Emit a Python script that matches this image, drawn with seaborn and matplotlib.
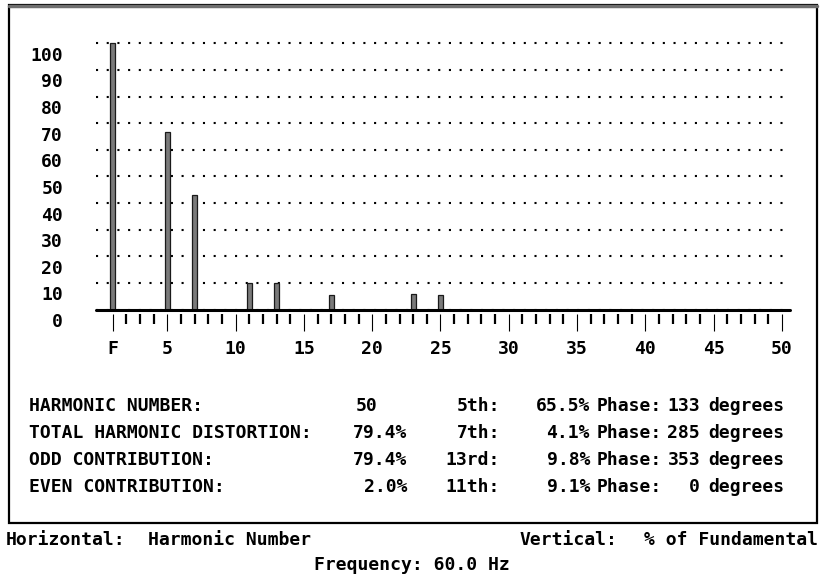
import matplotlib
matplotlib.use("Agg")
import matplotlib.pyplot as plt
import seaborn as sns
import pandas as pd
from matplotlib.patches import Rectangle
from matplotlib.lines import Line2D
from matplotlib.transforms import ScaledTranslation

# ---------------- data ----------------
harmonics = [1, 5, 7, 11, 13, 17, 23, 25]
percent_of_fundamental = [100, 66.5, 43, 10, 10, 5.3, 5.8, 5.5]

y_ticks = [0, 10, 20, 30, 40, 50, 60, 70, 80, 90, 100]
y_tick_labels = ["0", "10", "20", "30", "40", "50", "60", "70", "80", "90", "100"]
x_major_ticks = [1, 5, 10, 15, 20, 25, 30, 35, 40, 45, 50]
x_major_labels = ["F", "5", "10", "15", "20", "25", "30", "35", "40", "45", "50"]
x_minor_ticks = list(range(1, 51))

summary_labels = ["HARMONIC NUMBER:", "TOTAL HARMONIC DISTORTION:",
                  "ODD CONTRIBUTION:", "EVEN CONTRIBUTION:"]
summary_values = ["50", "79.4%", "79.4%", "2.0%"]
top_harmonic_names = ["5th:", "7th:", "13rd:", "11th:"]
top_harmonic_values = ["65.5%", "4.1%", "9.8%", "9.1%"]
top_harmonic_phases = ["133", "285", "353", "0"]

# ---------------- style ----------------
sns.set_theme(style="white")
plt.rcParams["font.family"] = ["DejaVu Sans Mono", "DejaVu Sans"]
plt.rcParams["font.weight"] = "bold"
plt.rcParams["lines.scale_dashes"] = False
FS = 13

W, H = 822, 579
fig = plt.figure(figsize=(W / 100, H / 100), dpi=100)
fig.patch.set_facecolor("white")

def fx(x):
    return x / W

def fy(y):
    return 1 - y / H

# axes geometry (pixels)
x_left_px, x_right_px = 96, 789.5
y_zero_px = 309.5
px_per_unit = 2.662
y_top_val = 102
y_top_px = y_zero_px - y_top_val * px_per_unit

ax = fig.add_axes([fx(x_left_px), fy(y_zero_px),
                   (x_right_px - x_left_px) / W, (y_zero_px - y_top_px) / H])
ax.set_facecolor("white")

df = pd.DataFrame({"harmonic": harmonics, "pct": percent_of_fundamental})
sns.barplot(data=df, x="harmonic", y="pct", native_scale=True, width=0.18,
            color="#7a7a7a", saturation=1, edgecolor="#1a1a1a", linewidth=0.9,
            errorbar=None, ax=ax, zorder=3)

ax.set_xlim(-0.22, 50.55)
ax.set_ylim(0, y_top_val)
ax.set_xlabel("")
ax.set_ylabel("")

# dotted horizontal grid (dots every ~10.7 px)
ax.set_axisbelow(True)
ax.set_yticks(y_ticks, y_tick_labels)
ax.yaxis.grid(True, linestyle=(0, (1.5, 6.2)), linewidth=1.5, color="black")
ax.xaxis.grid(False)

# baseline axis
ax.axhline(0, color="black", lw=2.2, zorder=4, clip_on=False)

for s in ["top", "left", "right", "bottom"]:
    ax.spines[s].set_visible(False)
ax.spines["bottom"].set_position(("outward", 2.9))

ax.set_xticks(x_major_ticks, x_major_labels)
ax.set_xticks(x_minor_ticks, minor=True)
ax.tick_params(axis="x", which="major", bottom=True, length=12.2, width=0.8,
               direction="out", pad=6.8, labelsize=FS, color="black",
               labelcolor="black")
ax.tick_params(axis="x", which="minor", bottom=True, length=7.2, width=1.6,
               direction="out", color="black")
ax.tick_params(axis="y", length=0, pad=23.8, labelsize=FS, labelcolor="black")
for lbl in ax.get_yticklabels():
    lbl.set_transform(lbl.get_transform() +
                      ScaledTranslation(0, -10.5 / 100, fig.dpi_scale_trans))
for lbl in ax.get_xticklabels() + ax.get_yticklabels():
    lbl.set_fontweight("bold")

# ---------------- frame ----------------
fig.add_artist(Rectangle((fx(9), fy(523)), fx(817) - fx(9), fy(5) - fy(523),
                         transform=fig.transFigure, fill=False,
                         edgecolor="black", lw=1.6))
fig.add_artist(Line2D([fx(9), fx(817)], [fy(5.5), fy(5.5)],
                      transform=fig.transFigure, color="#6f6f6f", lw=2.5))

# ---------------- summary table ----------------
row_baselines = [411, 438, 465, 492]
tk = dict(fontsize=FS, fontweight="bold", color="black", va="baseline")
for i, yb in enumerate(row_baselines):
    fig.text(fx(29), fy(yb), summary_labels[i], ha="left", **tk)
    if i == 0:
        fig.text(fx(377), fy(yb), summary_values[i], ha="right", **tk)
    else:
        fig.text(fx(407), fy(yb), summary_values[i], ha="right", **tk)
    fig.text(fx(500), fy(yb), top_harmonic_names[i], ha="right", **tk)
    fig.text(fx(590), fy(yb), top_harmonic_values[i], ha="right", **tk)
    fig.text(fx(597), fy(yb), "Phase:", ha="left", **tk)
    fig.text(fx(700), fy(yb), top_harmonic_phases[i], ha="right", **tk)
    fig.text(fx(708), fy(yb), "degrees", ha="left", **tk)

# ---------------- footer ----------------
fig.text(fx(6), fy(545), "Horizontal:", ha="left", **tk)
fig.text(fx(148), fy(545), "Harmonic Number", ha="left", **tk)
fig.text(fx(617), fy(545), "Vertical:", ha="right", **tk)
fig.text(fx(818), fy(545), "% of Fundamental", ha="right", **tk)
fig.text(fx(412), fy(570), "Frequency: 60.0 Hz", ha="center", **tk)

fig.savefig("out.png", dpi=100, facecolor="white")
